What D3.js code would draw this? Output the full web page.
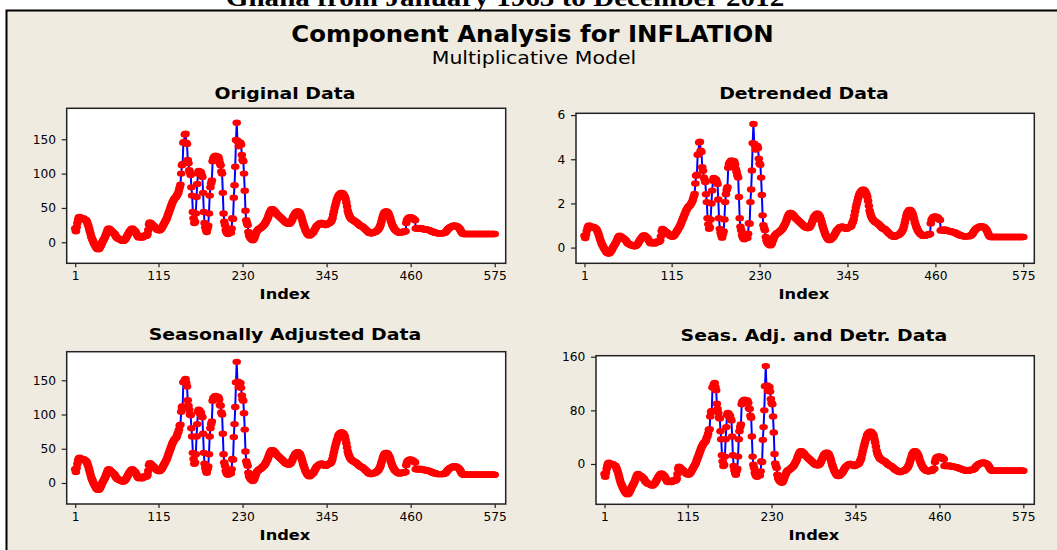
<!DOCTYPE html>
<html lang="en">
<head>
<meta charset="UTF-8" />
<title>Component Analysis for INFLATION</title>
<style>
  body { margin: 0; background: #ffffff; }
  svg { display: block; }
</style>
</head>
<body>
<svg id="chart"></svg>
<script src="https://cdn.jsdelivr.net/npm/d3@7"></script>
<script>
const width = 1057;
const height = 550;

// monthly inflation, index 1..575
const original = [
  20,16,22,28,33,36,37,36,35,34, 34,35,34,33,33,32,30,27,24,20,
  16,12,8,5,3,0,-2,-4,-6,-8, -9,-10,-10,-9,-7,-5,-3,0,2,4,
  6,8,11,14,17,19,20,19,18,17, 16,15,14,13,12,10,8,7,6,5,
  5,4,4,3,3,2,2,3,4,5, 7,9,11,13,15,16,18,19,20,19,
  18,17,16,14,12,10,8,7,8,9, 8,7,7,8,9,10,10,9,10,12,
  18,26,29,28,27,26,25,24,23,22, 21,20,19,18,18,17,18,19,20,22,
  24,26,28,30,32,34,37,40,43,46, 49,52,55,58,60,62,64,65,66,68,
  70,72,76,80,84,100,112,114,145,146, 157,158,145,143,120,115,105,102,98,80,
  68,44,35,28,30,42,66,85,100,104, 103,100,102,98,95,72,44,28,22,18,
  15,20,24,42,68,80,86,90,118,122, 124,125,126,124,122,125,124,120,115,112,
  103,100,72,42,30,25,18,15,13,12, 13,15,18,14,20,35,34,65,83,110,
  149,174,148,146,140,143,145,142,127,120, 118,100,75,46,32,28,25,15,10,8,
  6,5,4,3,4,6,9,12,15,17, 18,19,20,20,21,22,23,24,25,26,
  28,30,32,34,37,40,43,45,47,48, 48,47,46,45,44,42,41,40,39,38,
  37,36,35,34,33,32,31,30,29,28, 28,27,27,27,28,29,31,33,36,38,
  40,42,43,44,45,45,44,43,41,38, 35,31,27,24,21,18,16,14,12,11,
  10,10,11,12,13,14,15,17,19,21, 23,24,25,26,27,27,28,28,28,27,
  26,26,25,25,26,27,27,28,28,29, 30,32,35,40,45,50,54,58,62,65,
  67,69,70,71,72,72,71,70,68,66, 63,58,52,46,42,39,37,35,34,33,
  32,32,31,30,30,29,28,27,26,25, 24,24,23,23,22,21,20,19,18,17,
  16,15,14,14,13,13,13,14,14,15, 15,15,16,17,18,19,21,23,26,30,
  34,38,41,43,44,45,45,44,43,41, 38,35,31,28,25,23,21,19,18,17,
  16,15,15,14,14,14,15,15,15,15, 15,16,16,28,32,34,35,36,36,36,
  36,35,35,34,33,32,20,20,21,20, 20,20,21,20,20,20,19,19,19,19,
  19,18,18,18,18,17,17,16,16,15, 15,15,14,14,14,13,13,13,13,13,
  13,13,13,13,13,14,14,15,16,18, 19,20,21,22,22,23,23,24,24,24,
  24,24,23,23,22,21,20,18,16,14, 13,12,12,12,12,12,12,12,12,12,
  12,12,12,12,12,12,12,12,12,12, 12,12,12,12,12,12,12,12,12,12,
  12,12,12,12,12,12,12,12,12,12, 12,12,12,12,12
];

const detrended = [
  .54,.43,.59,.76,.89,.97,1.00,.97,.95,.92, .92,.95,.92,.89,.89,.86,.81,.73,.65,.54,
  .43,.32,.22,.14,.08,0,-.05,-.11,-.16,-.22, -.24,-.27,-.27,-.24,-.19,-.14,-.08,0,.05,.11,
  .16,.22,.30,.38,.46,.51,.54,.51,.49,.46, .44,.42,.39,.36,.33,.28,.22,.19,.17,.14,
  .14,.11,.11,.08,.08,.06,.06,.08,.11,.14, .19,.25,.31,.36,.42,.44,.50,.53,.56,.53,
  .50,.47,.44,.39,.33,.28,.22,.19,.22,.25, .22,.19,.19,.22,.25,.28,.28,.25,.28,.33,
  .52,.75,.84,.81,.78,.75,.72,.70,.67,.64, .61,.58,.55,.52,.52,.49,.52,.55,.58,.64,
  .70,.75,.81,.87,.93,.99,1.07,1.16,1.25,1.33, 1.42,1.51,1.59,1.68,1.74,1.80,1.86,1.88,1.91,1.97,
  2.03,2.09,2.20,2.32,2.43,2.90,3.25,3.30,4.20,4.23, 4.76,4.79,4.39,4.33,3.64,3.48,3.18,3.09,2.97,2.42,
  2.06,1.33,1.06,.85,.91,1.27,2.00,2.58,3.03,3.15, 3.12,3.03,3.09,2.97,2.88,2.18,1.33,.85,.67,.55,
  .45,.61,.73,1.27,2.06,2.42,2.61,2.73,3.62,3.78, 3.86,3.90,3.95,3.88,3.84,3.92,3.88,3.76,3.55,3.42,
  3.27,3.17,2.29,1.33,.95,.79,.57,.48,.41,.38, .41,.48,.57,.44,.63,1.11,1.08,2.06,2.63,3.49,
  4.73,5.60,4.70,4.63,4.44,4.54,4.60,4.51,4.03,3.81, 3.75,3.17,2.38,1.46,1.02,.89,.79,.48,.32,.25,
  .19,.16,.13,.10,.13,.19,.29,.38,.48,.54, .59,.62,.66,.66,.69,.72,.75,.79,.82,.85,
  .92,.98,1.05,1.11,1.21,1.31,1.41,1.48,1.54,1.57, 1.57,1.54,1.51,1.48,1.44,1.38,1.34,1.31,1.28,1.25,
  1.21,1.18,1.15,1.11,1.08,1.05,1.02,.98,.95,.92, .92,.89,.89,.89,.92,.95,1.02,1.08,1.18,1.25,
  1.36,1.42,1.46,1.49,1.53,1.53,1.49,1.46,1.39,1.29, 1.19,1.05,.92,.81,.71,.61,.54,.47,.41,.37,
  .34,.34,.37,.41,.44,.47,.51,.58,.64,.71, .78,.81,.85,.88,.92,.92,.95,.95,.95,.92,
  .88,.88,.85,.85,.88,.92,.92,.95,.95,.98, 1.09,1.16,1.27,1.45,1.64,1.82,1.96,2.11,2.25,2.36,
  2.44,2.51,2.55,2.58,2.62,2.62,2.58,2.55,2.47,2.40, 2.29,2.11,1.89,1.67,1.53,1.42,1.35,1.27,1.24,1.20,
  1.16,1.16,1.13,1.09,1.09,1.05,1.02,.98,.95,.91, .87,.87,.84,.84,.80,.76,.73,.69,.65,.62,
  .60,.57,.53,.53,.49,.49,.49,.53,.53,.57, .57,.57,.60,.64,.68,.72,.79,.87,.98,1.13,
  1.28,1.43,1.55,1.62,1.66,1.70,1.70,1.66,1.62,1.55, 1.43,1.32,1.17,1.06,.94,.87,.79,.72,.68,.64,
  .60,.57,.57,.53,.53,.53,.57,.57,.57,.57, .58,.62,.62,1.09,1.25,1.32,1.36,1.40,1.40,1.40,
  1.40,1.36,1.36,1.32,1.28,1.25,.78,.78,.82,.78, .78,.78,.82,.78,.78,.78,.74,.74,.74,.74,
  .74,.70,.70,.70,.70,.66,.66,.62,.62,.58, .58,.58,.54,.54,.54,.51,.51,.51,.51,.51,
  .52,.52,.52,.52,.52,.56,.56,.60,.64,.72, .76,.80,.84,.88,.88,.92,.92,.96,.96,.96,
  .96,.96,.92,.92,.88,.84,.80,.72,.64,.56, .52,.48,.48,.48,.48,.48,.48,.48,.48,.48,
  .48,.48,.48,.48,.48,.48,.48,.48,.48,.48, .48,.48,.48,.48,.48,.48,.48,.48,.48,.48,
  .48,.48,.48,.48,.48,.48,.48,.48,.48,.48, .48,.48,.48,.48,.48
];

const seasAdjusted = [
  20,16,22,28,33,36,37,36,35,34, 34,35,34,33,33,32,30,27,24,20,
  16,12,8,5,3,0,-2,-4,-6,-8, -9,-10,-10,-9,-7,-5,-3,0,2,4,
  6,8,11,14,17,19,20,19,18,17, 16,15,14,13,12,10,8,7,6,5,
  5,4,4,3,3,2,2,3,4,5, 7,9,11,13,15,16,18,19,20,19,
  18,17,16,14,12,10,8,7,8,9, 8,7,7,8,9,10,10,9,10,12,
  18,26,29,28,27,26,25,24,23,22, 21,20,19,18,18,17,18,19,20,22,
  24,26,28,30,32,34,37,40,43,46, 49,52,55,58,60,62,64,65,66,68,
  72,74,78,84,85,104,111,112,147,148, 150,152,146,141,121,113,107,100,99,80,
  68,44,35,28,30,42,68,86,104,107, 106,101,103,98,96,72,44,28,22,18,
  15,20,24,42,68,80,86,90,120,124, 125,126,127,125,123,126,125,122,114,113,
  103,100,72,42,30,25,18,15,13,12, 13,15,18,14,20,35,34,67,86,111,
  147,177,147,148,140,145,146,139,128,122, 120,102,78,46,32,28,25,15,10,8,
  6,5,4,3,4,6,9,12,15,17, 18,19,20,20,21,22,23,24,25,26,
  28,30,32,34,37,40,43,45,47,48, 48,47,46,45,44,42,41,40,39,38,
  37,36,35,34,33,32,31,30,29,28, 28,27,27,27,28,29,31,33,36,38,
  40,42,43,44,45,45,44,43,41,38, 35,31,27,24,21,18,16,14,12,11,
  10,10,11,12,13,14,15,17,19,21, 23,24,25,26,27,27,28,28,28,27,
  26,26,25,25,26,27,27,28,28,29, 30,32,35,40,45,50,54,58,62,65,
  69,71,72,73,74,74,73,72,70,68, 63,58,52,46,42,39,37,35,34,33,
  32,32,31,30,30,29,28,27,26,25, 24,24,23,23,22,21,20,19,18,17,
  16,15,14,14,13,13,13,14,14,15, 15,15,16,17,18,19,21,23,26,30,
  33,37,40,42,43,44,44,43,42,40, 38,35,31,28,25,23,21,19,18,17,
  16,15,15,14,14,14,15,15,15,15, 15,16,16,26,30,32,33,34,34,34,
  34,33,33,32,31,30,20,20,21,20, 20,20,21,20,20,20,19,19,19,19,
  19,18,18,18,18,17,17,16,16,15, 15,15,14,14,14,13,13,13,13,13,
  13,13,13,13,13,14,14,15,16,18, 19,20,21,22,22,23,23,24,24,24,
  24,24,23,23,22,21,20,18,16,14, 13,12,12,12,12,12,12,12,12,12,
  12,12,12,12,12,12,12,12,12,12, 12,12,12,12,12,12,12,12,12,12,
  12,12,12,12,12,12,12,12,12,12, 12,12,12,12,12
];

const seasAdjDetrended = [
  -15,-19,-13,-7,-2,1,2,1,0,-1, -1,0,-1,-2,-2,-3,-5,-8,-11,-15,
  -19,-23,-27,-30,-32,-35,-37,-39,-41,-43, -44,-45,-45,-44,-42,-40,-38,-35,-33,-31,
  -29,-27,-24,-21,-18,-16,-15,-16,-17,-18, -18,-19,-20,-21,-22,-24,-26,-27,-28,-29,
  -29,-30,-30,-31,-31,-32,-32,-31,-30,-29, -27,-25,-23,-21,-19,-18,-16,-15,-14,-15,
  -16,-17,-18,-20,-22,-24,-26,-27,-26,-25, -26,-27,-27,-26,-25,-24,-24,-25,-24,-22,
  -15,-7,-4,-5,-6,-7,-8,-9,-10,-11, -12,-13,-14,-15,-15,-16,-15,-14,-13,-11,
  -9,-7,-5,-3,-1,1,4,7,10,13, 16,19,22,25,27,29,31,32,33,35,
  39,41,45,51,52,71,78,79,114,115, 119,121,115,110,90,82,76,69,68,49,
  37,13,4,-3,-1,11,37,55,73,76, 75,70,72,67,65,41,13,-3,-9,-13,
  -16,-11,-7,11,37,49,55,59,89,93, 94,95,96,94,92,95,94,91,83,82,
  72,69,41,11,-1,-6,-13,-16,-18,-19, -18,-16,-13,-17,-11,4,3,36,55,80,
  116,146,116,117,109,114,115,108,97,91, 89,71,47,15,1,-3,-6,-16,-21,-23,
  -25,-26,-27,-28,-27,-25,-22,-19,-16,-14, -11,-10,-9,-9,-8,-7,-6,-5,-4,-3,
  -1,1,3,5,8,11,14,16,18,19, 19,18,17,16,15,13,12,11,10,9,
  8,7,6,5,4,3,2,1,0,-1, -1,-2,-2,-2,-1,0,2,4,7,9,
  12,14,15,16,17,17,16,15,13,10, 7,3,-1,-4,-7,-10,-12,-14,-16,-17,
  -18,-18,-17,-16,-15,-14,-13,-11,-9,-7, -5,-4,-3,-2,-1,-1,0,0,0,-1,
  -2,-2,-3,-3,-2,-1,-1,0,0,1, 4,6,9,14,19,24,28,32,36,39,
  43,45,46,47,48,48,47,46,44,42, 37,32,26,20,16,13,11,9,8,7,
  6,6,5,4,4,3,2,1,0,-1, -2,-2,-3,-3,-4,-5,-6,-7,-8,-9,
  -9,-10,-11,-11,-12,-12,-12,-11,-11,-10, -10,-10,-9,-8,-7,-6,-4,-2,1,5,
  8,12,15,17,18,19,19,18,17,15, 13,10,6,3,0,-2,-4,-6,-7,-8,
  -9,-10,-10,-11,-11,-11,-10,-10,-10,-10, -8,-7,-7,3,7,9,10,11,11,11,
  11,10,10,9,8,7,-3,-3,-2,-3, -3,-3,-2,-3,-3,-3,-4,-4,-4,-4,
  -4,-5,-5,-5,-5,-6,-6,-7,-7,-8, -8,-8,-9,-9,-9,-10,-10,-10,-10,-10,
  -9,-9,-9,-9,-9,-8,-8,-7,-6,-4, -3,-2,-1,0,0,1,1,2,2,2,
  2,2,1,1,0,-1,-2,-4,-6,-8, -9,-10,-10,-10,-10,-10,-10,-10,-10,-10,
  -10,-10,-10,-10,-10,-10,-10,-10,-10,-10, -10,-10,-10,-10,-10,-10,-10,-10,-10,-10,
  -10,-10,-10,-10,-10,-10,-10,-10,-10,-10, -10,-10,-10,-10,-10
];

const indexTicks = [1, 115, 230, 345, 460, 575];
const originalTicks = [0, 50, 100, 150];
const detrendedTicks = [0, 2, 4, 6];
const seasAdjustedTicks = [0, 50, 100, 150];
const seasAdjDetrTicks = [0, 80, 160];

const panels = [
  { title: "Original Data", values: original, ticks: originalTicks, yMin: -30.6, yMax: 195.1,
    left: 66.7, top: 108.3, right: 505.7, bottom: 263.3, titleY: 98.5 },
  { title: "Detrended Data", values: detrended, ticks: detrendedTicks, yMin: -0.71, yMax: 6.08,
    left: 576, top: 113.3, right: 1034.3, bottom: 263.3, titleY: 99 },
  { title: "Seasonally Adjusted Data", values: seasAdjusted, ticks: seasAdjustedTicks, yMin: -30.7, yMax: 191.8,
    left: 66.7, top: 351.7, right: 505.7, bottom: 504, titleY: 340 },
  { title: "Seas. Adj. and Detr. Data", values: seasAdjDetrended, ticks: seasAdjDetrTicks, yMin: -60.1, yMax: 161.5,
    left: 596, top: 355.7, right: 1034.3, bottom: 504.3, titleY: 340.5 }
];

const svg = d3.select("#chart").attr("width", width).attr("height", height);

function stretched(sel, x, y, str, size, weight, sx, family) {
  return sel.append("text")
    .attr("transform", `translate(${x},${y}) scale(${sx},1)`)
    .attr("text-anchor", "middle")
    .attr("font-family", family || "DejaVu Sans")
    .attr("font-size", size)
    .attr("font-weight", weight)
    .attr("fill", "#000")
    .text(str);
}

// caption of the page above the figure (cut off at the top, as in the source)
stretched(svg, 505, 6, "Ghana from January 1963 to December 2012", 26, "bold", 1.12, "Liberation Serif");

// outer frame
svg.append("rect")
  .attr("x", 6.5).attr("y", 10.5)
  .attr("width", 1070).attr("height", 560)
  .attr("fill", "#EFEBE1")
  .attr("stroke", "#000")
  .attr("stroke-width", 2);

stretched(svg, 532.5, 42, "Component Analysis for INFLATION", 22.5, "bold", 1.085);
stretched(svg, 534, 64, "Multiplicative Model", 17.5, "normal", 1.17);

panels.forEach(p => {
  const x = d3.scaleLinear().domain([1, 575]).range([p.left + 8.5, p.right - 11]);
  const y = d3.scaleLinear().domain([p.yMin, p.yMax]).range([p.bottom, p.top]);
  const g = svg.append("g");

  g.append("rect")
    .attr("x", p.left).attr("y", p.top)
    .attr("width", p.right - p.left).attr("height", p.bottom - p.top)
    .attr("fill", "#fff")
    .attr("stroke", "#222")
    .attr("stroke-width", 1.5);

  const line = d3.line()
    .x((d, i) => x(i + 1))
    .y(d => y(d));

  g.append("path")
    .datum(p.values)
    .attr("d", line)
    .attr("fill", "none")
    .attr("stroke", "#0000FF")
    .attr("stroke-width", 2);

  g.append("g")
    .selectAll("ellipse")
    .data(p.values)
    .join("ellipse")
    .attr("cx", (d, i) => x(i + 1))
    .attr("cy", d => y(d))
    .attr("rx", 4.3)
    .attr("ry", 3.2)
    .attr("fill", "#FF0000");

  const xAxis = g.append("g")
    .attr("transform", `translate(0,${p.bottom})`)
    .call(d3.axisBottom(x).tickValues(indexTicks).tickFormat(d3.format("d")).tickSize(4).tickPadding(4.5));
  const yAxis = g.append("g")
    .attr("transform", `translate(${p.left},0)`)
    .call(d3.axisLeft(y).tickValues(p.ticks).tickFormat(d3.format("d")).tickSize(5).tickPadding(5.5));

  [xAxis, yAxis].forEach(a => {
    a.select(".domain").remove();
    a.selectAll(".tick line").attr("stroke", "#222").attr("stroke-width", 1.2);
    a.selectAll(".tick text")
      .attr("font-family", "DejaVu Sans")
      .attr("font-size", 12)
      .attr("fill", "#000")
      .attr("transform", "scale(1.02,1)");
  });

  stretched(g, x(288), p.titleY, p.title, 16, "bold", 1.18);
  stretched(g, x(288), p.bottom + 35.5, "Index", 14.5, "bold", 1.12);
});
</script>
</body>
</html>
